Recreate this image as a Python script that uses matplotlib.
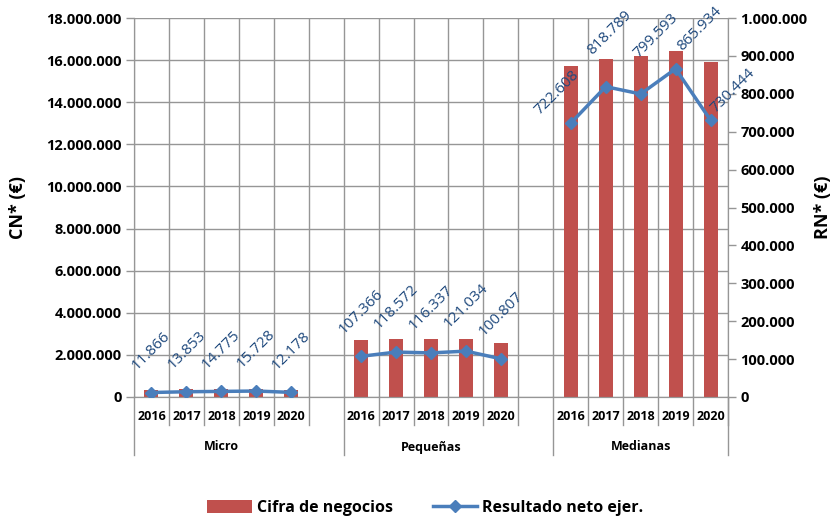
import numpy as np
import matplotlib.pyplot as plt
from matplotlib.patches import Patch
from matplotlib.lines import Line2D
import matplotlib.transforms as mtransforms

plt.rcParams['font.family'] = ['Open Sans', 'DejaVu Sans']

# Data
groups = ["Micro", "Pequeñas", "Medianas"]
years = ["2016", "2017", "2018", "2019", "2020"]
cn_micro = [330000, 370000, 380000, 380000, 330000]
cn_pequenas = [2710000, 2740000, 2750000, 2740000, 2560000]
cn_medianas = [15740000, 16040000, 16210000, 16420000, 15910000]
rn_micro = [11866, 13853, 14775, 15728, 12178]
rn_pequenas = [107366, 118572, 116337, 121034, 100807]
rn_medianas = [722608, 818789, 799593, 865934, 730444]

cn_all = [cn_micro, cn_pequenas, cn_medianas]
rn_all = [rn_micro, rn_pequenas, rn_medianas]

BAR = "#C0504D"
LINE = "#4A7EBB"
LABEL = "#1F497D"
GRID = "#969696"

# label offsets in pixels (dx, dy up), Excel nudged the Medianas ones
default_off = [(0, 42), (0, 45)]
med_off = [(-14, 30), (4, 54), (15, 58), (24, 40), (22, 30)]

def fmt(v):
    return f"{v:,.0f}".replace(",", ".")

fig = plt.figure(figsize=(8.34, 5.19), dpi=100)
ax = fig.add_axes([134/834, 1-397/519, (728-134)/834, (397-18)/519])
ax2 = ax.twinx()

n_slots = 17
for g in range(3):
    xs = [6*g + i for i in range(5)]
    ax.bar(xs, cn_all[g], width=0.4, color=BAR, zorder=2)
    ax2.plot(xs, rn_all[g], color=LINE, lw=2.5, marker="D", ms=6, zorder=3)
    for i, (x, v) in enumerate(zip(xs, rn_all[g])):
        dx, dy = med_off[i] if g == 2 else default_off[g]
        ax2.annotate(fmt(v), (x, v), xytext=(dx*0.72, dy*0.72), textcoords="offset points",
                     rotation=45, ha="center", va="center", color=LABEL, fontsize=11)

ax.set_xlim(-0.5, n_slots - 0.5)
ax.set_ylim(0, 18000000)
ax.set_yticks(np.arange(0, 18000001, 2000000))
ax.set_yticklabels([fmt(v) for v in np.arange(0, 18000001, 2000000)])
ax2.set_ylim(0, 1000000)
ax2.set_yticks(np.arange(0, 1000001, 100000))
ax2.set_yticklabels([fmt(v) for v in np.arange(0, 1000001, 100000)])

for a in (ax, ax2):
    a.tick_params(axis="y", labelsize=10.5, color=GRID, length=6, width=1, pad=3)
    for lab in a.get_yticklabels():
        lab.set_fontweight("bold")
    for s in a.spines.values():
        s.set_color(GRID)
    a.spines["top"].set_visible(False)

ax.set_axisbelow(True)
ax.yaxis.grid(True, color=GRID, lw=1)
for k in range(n_slots + 1):
    ax.axvline(k - 0.5, color=GRID, lw=1, zorder=0)

# two-level category axis
ax.set_xticks([])
trans = mtransforms.blended_transform_factory(ax.transData, ax.transAxes)
ax_h = (397 - 18)
short = -28 / ax_h
long = -58 / ax_h
for g in range(3):
    start = 6*g - 0.5
    ax.plot([start, start], [0, long], transform=trans, color=GRID, lw=1, clip_on=False)
    for i in range(1, 6):
        ax.plot([start+i, start+i], [0, short], transform=trans, color=GRID, lw=1, clip_on=False)
    for i, y in enumerate(years):
        ax.text(6*g + i, -19/ax_h, y, transform=trans, ha="center", va="center",
                fontsize=9, fontweight="bold")
    ax.text(6*g + 2, -50/ax_h, groups[g], transform=trans,
            ha="center", va="center", fontsize=9, fontweight="bold")
ax.plot([16.5, 16.5], [0, long], transform=trans, color=GRID, lw=1, clip_on=False)

fig.text(18/834, 1-207/519, "CN* (€)", rotation=90, ha="center", va="center",
         fontsize=13, fontweight="bold")
fig.text(823/834, 1-207/519, "RN* (€)", rotation=90, ha="center", va="center",
         fontsize=13, fontweight="bold")

handles = [Patch(facecolor=BAR, label="Cifra de negocios"),
           Line2D([0], [0], color=LINE, lw=2.5, marker="D", ms=6, label="Resultado neto ejer.")]
fig.legend(handles=handles, loc="center", bbox_to_anchor=(0.51, 1-508/519), ncol=2,
           frameon=False, prop={"weight": "bold", "size": 11.5}, handlelength=2.8,
           handleheight=0.8, handletextpad=0.3, columnspacing=2.5)

fig.savefig("out.png", dpi=100)
